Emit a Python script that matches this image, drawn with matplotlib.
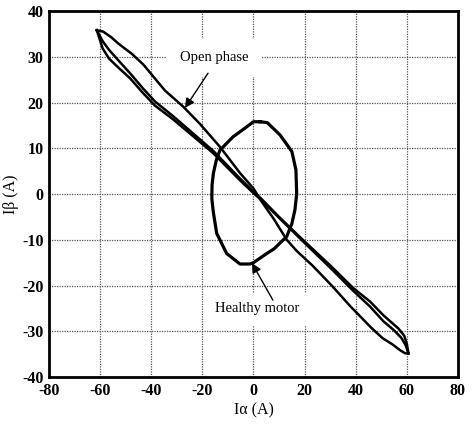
import matplotlib
matplotlib.use("Agg")
import matplotlib.pyplot as plt

# Healthy motor trajectory (closed loop)
healthy_x = [2.5, 5.4, 10.4, 15.0, 16.6, 16.9, 16.2, 15.0, 13.0, 8.0, 5.2, 0.0, -1.4, -5.3,
             -10.5, -14.4, -15.7, -16.3, -16.2, -15.7, -14.5, -13.1, -8.0, -2.6, 0.0, 2.5]
healthy_y = [15.8, 15.6, 12.9, 9.3, 5.3, 0.0, -3.5, -6.5, -9.3, -12.0, -13.0, -15.0, -15.3, -15.3,
             -13.0, -8.6, -4.0, -1.0, 2.0, 4.5, 7.5, 9.6, 12.5, 14.7, 15.8, 15.8]

# Open phase: thin branch (upper-left -> lower-right)
open_thin_x = [-61.3, -58.8, -55.5, -52.9, -47.5, -43.1, -34.6, -27.5, -20.9, -13.1, -5.3, 0.0,
               3.0, 8.0, 13.0, 17.0, 23.0, 30.6, 38.0, 46.2, 50.5, 54.7, 57.5, 59.3, 60.6]
open_thin_y = [35.8, 35.5, 34.2, 32.9, 30.6, 28.3, 22.6, 19.1, 15.3, 10.3, 4.6, 1.2,
               -1.5, -5.5, -10.0, -12.5, -15.6, -20.0, -24.6, -29.3, -31.5, -33.0, -34.2, -34.8, -34.9]

# Open phase: thick branch (right tip -> upper-right -> centre -> lower-left -> left tip), two cycles
open_thick1_x = [60.6, 60.0, 59.0, 56.7, 50.8, 45.6, 39.1, 30.0, 18.9, 10.0, 3.0, 0.0, -5.3,
                 -15.7, -31.4, -38.5, -43.1, -48.3, -53.0, -56.5, -59.0, -61.3]
open_thick1_y = [-34.8, -32.8, -31.0, -29.4, -26.5, -23.5, -20.6, -15.6, -9.8, -5.0, -1.0, 0.5, 3.4,
                 9.4, 17.0, 20.2, 23.0, 26.4, 29.3, 31.5, 33.4, 35.8]
open_thick2_x = [60.6, 59.5, 57.8, 55.0, 50.8, 45.6, 39.1, 30.0, 18.9, 10.0, 3.0, 0.0, -5.3,
                 -15.7, -31.4, -38.5, -43.1, -48.3, -53.0, -56.5, -59.0, -61.3]
open_thick2_y = [-34.8, -33.0, -31.4, -29.8, -27.8, -24.6, -21.2, -16.1, -10.1, -5.2, -1.3, 0.2, 3.0,
                 8.9, 16.3, 19.3, 22.0, 25.3, 27.7, 29.6, 31.8, 35.8]

xticks = [-80, -60, -40, -20, 0, 20, 40, 60, 80]
yticks = [-40, -30, -20, -10, 0, 10, 20, 30, 40]

plt.rcParams['font.family'] = ['Liberation Serif', 'DejaVu Serif']

fig = plt.figure(figsize=(4.72, 4.25), dpi=100)
ax = fig.add_axes([0.1038, 0.1129, 0.8665, 0.8612])

ax.plot(open_thin_x, open_thin_y, color='black', lw=1.8, solid_joinstyle='round')
ax.plot(open_thick1_x, open_thick1_y, color='black', lw=1.8, solid_joinstyle='round')
ax.plot(open_thick2_x, open_thick2_y, color='black', lw=1.8, solid_joinstyle='round')
ax.plot(healthy_x, healthy_y, color='black', lw=2.3, solid_joinstyle='round')

ax.set_xlim(-80, 80)
ax.set_ylim(-40, 40)
ax.set_xticks(xticks)
ax.set_yticks(yticks)
ax.set_xticklabels([str(v) for v in xticks], fontsize=11.5, fontweight='bold')
ax.set_yticklabels([str(v) for v in yticks], fontsize=11.5, fontweight='bold')
ax.tick_params(direction='in', length=0, pad=4)
ax.grid(True, color='#555555', linestyle=(0, (1, 1)), lw=0.9)
ax.set_axisbelow(True)
for s in ax.spines.values():
    s.set_linewidth(2.0)

ax.set_xlabel('Iα (A)', fontsize=11.5, labelpad=3)
ax.set_ylabel('Iβ (A)', fontsize=11.5, labelpad=2)

ax.text(-15.5, 29.8, 'Open phase', fontsize=10.5, ha='center', va='center',
        bbox=dict(facecolor='white', edgecolor='none', pad=9), zorder=3)
ax.text(1.4, -25.1, 'Healthy motor', fontsize=10.5, ha='center', va='center',
        bbox=dict(facecolor='white', edgecolor='none', pad=7), zorder=3)

ax.annotate('', xy=(-26.8, 18.8), xytext=(-17.8, 26.4),
            arrowprops=dict(arrowstyle='-|>', color='black', lw=1.0, mutation_scale=14,
                            shrinkA=0, shrinkB=0), zorder=4)
ax.annotate('', xy=(-0.6, -15.1), xytext=(7.6, -23.2),
            arrowprops=dict(arrowstyle='-|>', color='black', lw=1.0, mutation_scale=14,
                            shrinkA=0, shrinkB=0), zorder=4)

fig.savefig('out.png', dpi=100)
